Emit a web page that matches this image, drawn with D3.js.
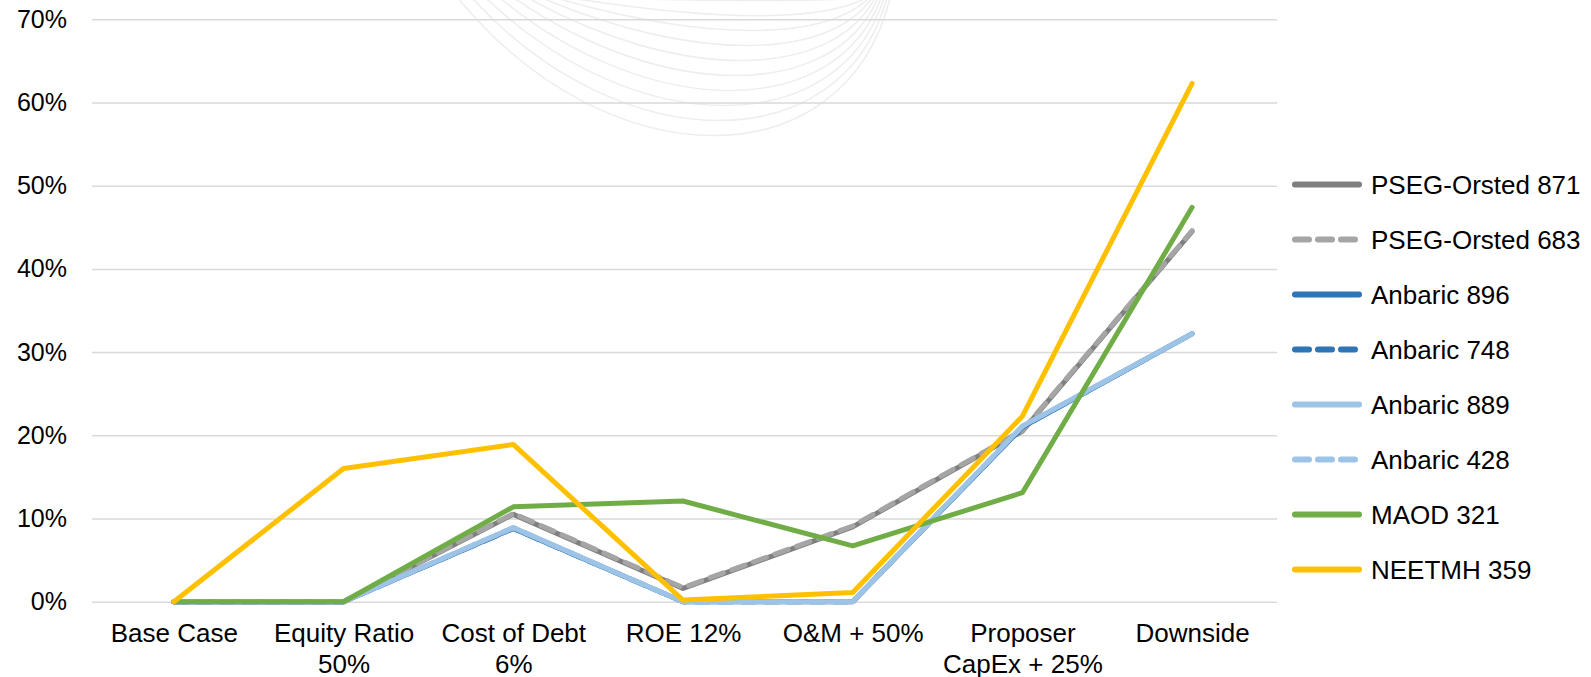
<!DOCTYPE html>
<html>
<head>
<meta charset="utf-8">
<script src="https://cdn.jsdelivr.net/npm/d3@7"></script>
<style>
  html, body { margin: 0; padding: 0; background: #ffffff; }
  svg { display: block; font-family: "Liberation Sans", Arial, sans-serif; }
</style>
</head>
<body>
<svg width="1591" height="677"></svg>
<script>
/* ===============================
   Data
   =============================== */
let categories = [
    ["Base Case"],
    ["Equity Ratio", "50%"],
    ["Cost of Debt", "6%"],
    ["ROE 12%"],
    ["O&M + 50%"],
    ["Proposer", "CapEx + 25%"],
    ["Downside"]
];

let seriesNames = [
    "PSEG-Orsted 871", "PSEG-Orsted 683",
    "Anbaric 896", "Anbaric 748", "Anbaric 889", "Anbaric 428",
    "MAOD 321", "NEETMH 359"
];

let pseg871 = [0, 0, 0.105, 0.016, 0.090, 0.205, 0.445];
let pseg683 = [0, 0, 0.106, 0.017, 0.091, 0.206, 0.446];
let anbaric896 = [0, 0, 0.088, 0, 0, 0.210, 0.322];
let anbaric748 = [0, 0, 0.088, 0, 0, 0.210, 0.322];
let anbaric889 = [0, 0, 0.089, 0, 0, 0.211, 0.322];
let anbaric428 = [0, 0, 0.089, 0, 0, 0.211, 0.322];
let maod321 = [0, 0, 0.114, 0.121, 0.067, 0.131, 0.474];
let neetmh359 = [0, 0.160, 0.189, 0.002, 0.011, 0.223, 0.623];

let yTicks = [0, 0.1, 0.2, 0.3, 0.4, 0.5, 0.6, 0.7];

/* ===============================
   Select SVG and styles per series
   =============================== */
let svg = d3.select("svg");

let seriesValues = [pseg871, pseg683, anbaric896, anbaric748, anbaric889, anbaric428, maod321, neetmh359];
let colors = ["#7f7f7f", "#a5a5a5", "#2e75b6", "#2e75b6", "#9dc3e6", "#9dc3e6", "#70ad47", "#ffc000"];
let dashed = [false, true, false, true, false, true, false, false];

/* ===============================
   Scales
   =============================== */
let x = d3.scalePoint()
    .domain(d3.range(categories.length))
    .range([89, 1277])
    .padding(0.5);

let y = d3.scaleLinear()
    .domain([0, 0.7])
    .range([601.7, 19.3]);

/* ===============================
   Background swirl (faint arcs)
   =============================== */
let swirl = svg.append("g")
    .attr("fill", "none")
    .attr("stroke", "#eeeeee")
    .attr("stroke-width", 1.6);

for (let i = 0; i < 10; i++) {
    let x0 = 458 + i * 14;
    let x1 = 890 - i * 3;
    let depth = 136 - i * 15;
    let h = depth / 0.75;
    swirl.append("path")
        .attr("d", "M" + x0 + ",-2 C" + (x0 + 150) + "," + h + " " + (x1 - 45) + "," + h + " " + x1 + ",-2");
}

/* ===============================
   Gridlines and y axis
   =============================== */
let yAxis = svg.append("g")
    .attr("transform", "translate(89,0)")
    .call(d3.axisLeft(y)
        .tickValues(yTicks)
        .tickFormat(d3.format(".0%"))
        .tickSize(-1188)
        .tickPadding(22));

yAxis.select(".domain").remove();
yAxis.selectAll(".tick line")
    .attr("stroke", "#d9d9d9")
    .attr("stroke-width", 1.5)
    .attr("x1", 3);
yAxis.selectAll(".tick text")
    .attr("font-size", 25)
    .attr("font-family", "Liberation Sans, Arial, sans-serif")
    .attr("fill", "#000");

/* ===============================
   X axis labels
   =============================== */
let xAxis = svg.append("g")
    .attr("transform", "translate(0,601.7)")
    .call(d3.axisBottom(x).tickSize(0).tickFormat(""));

xAxis.select(".domain").remove();

xAxis.selectAll(".tick").each(function (d) {
    let t = d3.select(this).append("text")
        .attr("text-anchor", "middle")
        .attr("font-size", 26)
        .attr("font-family", "Liberation Sans, Arial, sans-serif")
        .attr("fill", "#000");
    categories[d].forEach(function (line, k) {
        t.append("tspan")
            .attr("x", 0)
            .attr("y", 40 + k * 31)
            .text(line);
    });
});

/* ===============================
   Series lines
   =============================== */
let line = d3.line()
    .x(function (d, i) { return x(i); })
    .y(function (d) { return y(d); });

seriesValues.forEach(function (vals, s) {
    svg.append("path")
        .datum(vals)
        .attr("d", line)
        .attr("fill", "none")
        .attr("stroke", colors[s])
        .attr("stroke-width", 5)
        .attr("stroke-linejoin", "round")
        .attr("stroke-linecap", "round")
        .attr("stroke-dasharray", dashed[s] ? "14,9" : null);
});

/* ===============================
   Legend
   =============================== */
let legend = svg.append("g")
    .attr("transform", "translate(1295,184.5)");

seriesNames.forEach(function (name, s) {
    let row = legend.append("g")
        .attr("transform", "translate(0," + (s * 55) + ")");

    row.append("line")
        .attr("x1", 0)
        .attr("x2", 64)
        .attr("y1", 0)
        .attr("y2", 0)
        .attr("stroke", colors[s])
        .attr("stroke-width", 6)
        .attr("stroke-linecap", "round")
        .attr("stroke-dasharray", dashed[s] ? "14,9" : null);

    row.append("text")
        .attr("x", 76)
        .attr("y", 0)
        .attr("dy", "0.35em")
        .attr("font-size", 26)
        .attr("fill", "#000")
        .text(name);
});
</script>
</body>
</html>
